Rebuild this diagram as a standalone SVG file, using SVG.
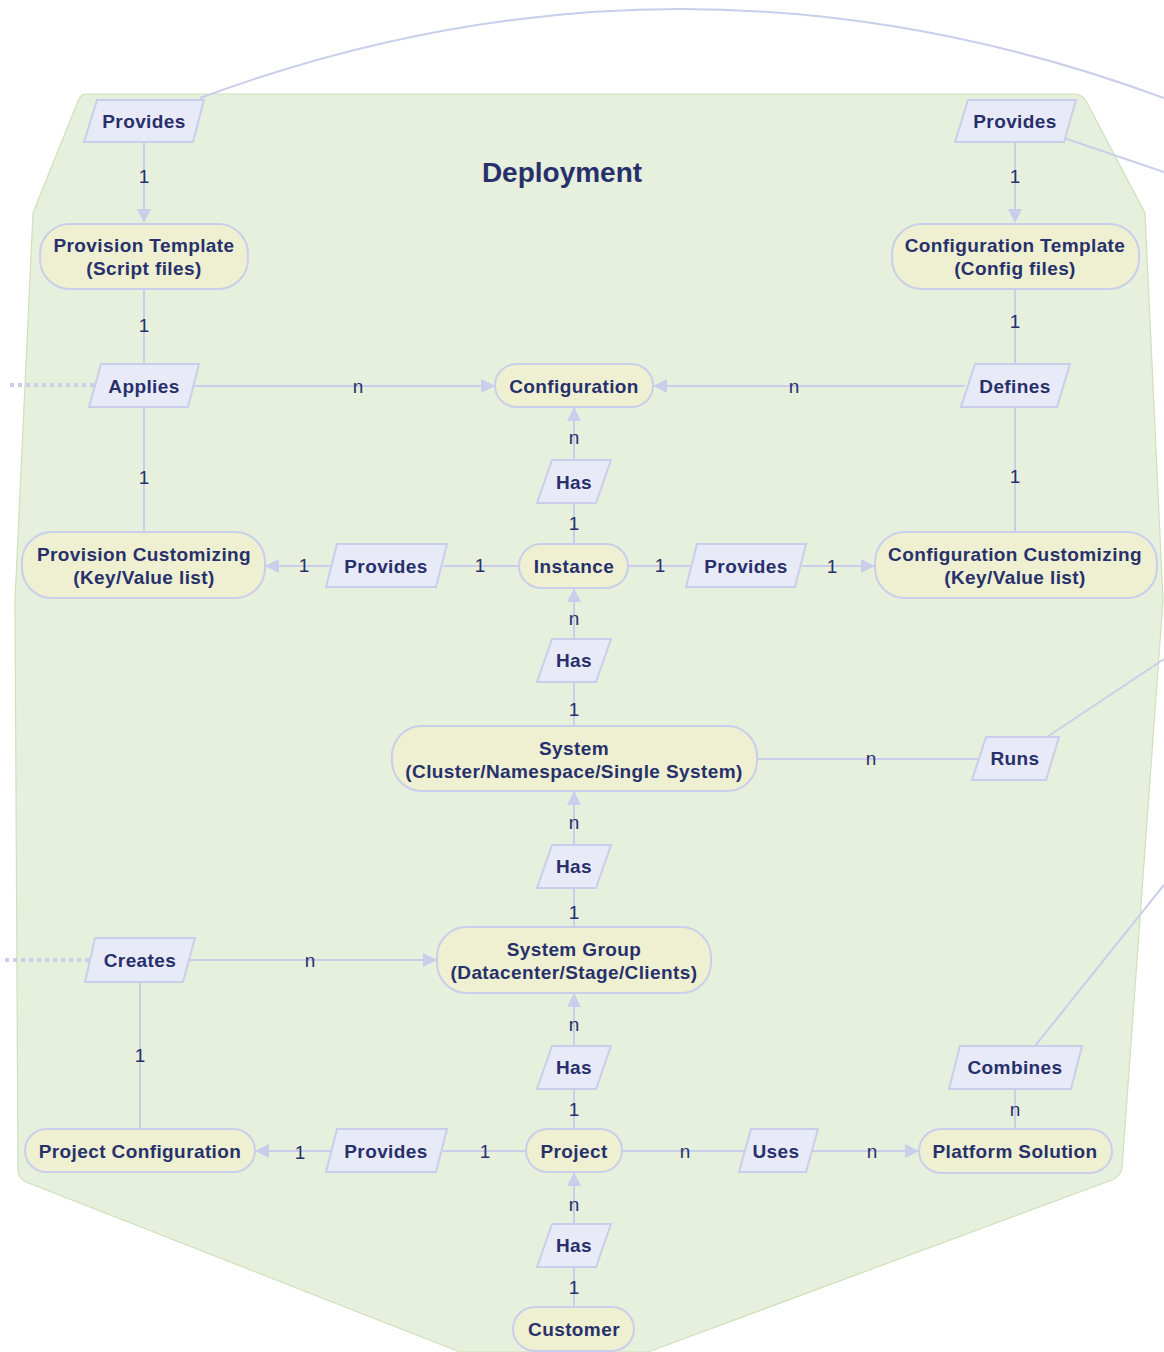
<svg xmlns="http://www.w3.org/2000/svg" width="1164" height="1352" viewBox="0 0 1164 1352">
<style>
.bg{fill:#e6f0dc;stroke:#cfe0bc;stroke-width:1.2}
.ent{fill:#eef0d1;stroke:#c9cfea;stroke-width:2}
.rel{fill:#e8eaf8;stroke:#c9cfea;stroke-width:2}
.t{font-family:"Liberation Sans",Arial,sans-serif;font-weight:bold;font-size:19px;letter-spacing:0.4px;fill:#28306c;text-anchor:middle;dominant-baseline:central}
.lbl{font-family:"Liberation Sans",Arial,sans-serif;font-size:19px;fill:#28306c;text-anchor:middle;dominant-baseline:central}
.ln{fill:none;stroke:#c9cfea;stroke-width:2}
.dot{fill:none;stroke:#c9cfea;stroke-width:4;stroke-dasharray:4 4}
.title{font-family:"Liberation Sans",Arial,sans-serif;font-weight:bold;font-size:28px;fill:#28306c;text-anchor:middle;dominant-baseline:central}
</style>
<defs>
<marker id="arr" viewBox="0 0 14 14" refX="13" refY="7" markerWidth="14" markerHeight="14" markerUnits="userSpaceOnUse" orient="auto">
<path d="M0,0 L14,7 L0,14 z" fill="#c9cfea"/>
</marker>
</defs>
<path class="bg" d="M86,94 L1074,94 Q1082,94 1086,101 L1145,213 L1163,600 L1122,1168 Q1121,1176 1112,1180 L648,1352 L460,1352 L26,1182 Q18,1178 18,1170 L15,600 L33,213 L78,101 Q81,94 86,94 z"/>
<text class="title" x="562" y="172">Deployment</text>
<g id="connectors">
<path class="ln" d="M200,98 Q680,-80 1164,98"/>
<path class="ln" d="M1064,138 L1164,172"/>
<path class="ln" d="M1047,737 L1164,659"/>
<path class="ln" d="M1035,1046 L1164,885"/>
<path class="dot" d="M10,385 L95,385"/>
<path class="dot" d="M5,960 L90,960"/>
<path class="ln" d="M144,142 L144,222" marker-end="url(#arr)"/>
<path class="ln" d="M144,289 L144,364"/>
<path class="ln" d="M144,407 L144,532"/>
<path class="ln" d="M192,386 L494,386" marker-end="url(#arr)"/>
<path class="ln" d="M965,386 L654,386" marker-end="url(#arr)"/>
<path class="ln" d="M1015,142 L1015,222" marker-end="url(#arr)"/>
<path class="ln" d="M1015,289 L1015,364"/>
<path class="ln" d="M1015,407 L1015,532"/>
<path class="ln" d="M574,460 L574,408" marker-end="url(#arr)"/>
<path class="ln" d="M574,544 L574,503"/>
<path class="ln" d="M519,566 L443,566"/>
<path class="ln" d="M331,566 L266,566" marker-end="url(#arr)"/>
<path class="ln" d="M628,566 L690,566"/>
<path class="ln" d="M802,566 L874,566" marker-end="url(#arr)"/>
<path class="ln" d="M574,639 L574,589" marker-end="url(#arr)"/>
<path class="ln" d="M574,726 L574,682"/>
<path class="ln" d="M757,759 L978,759"/>
<path class="ln" d="M574,845 L574,792" marker-end="url(#arr)"/>
<path class="ln" d="M574,927 L574,888"/>
<path class="ln" d="M188,960 L436,960" marker-end="url(#arr)"/>
<path class="ln" d="M140,982 L140,1129"/>
<path class="ln" d="M574,1046 L574,994" marker-end="url(#arr)"/>
<path class="ln" d="M574,1129 L574,1089"/>
<path class="ln" d="M526,1151 L443,1151"/>
<path class="ln" d="M331,1151 L256,1151" marker-end="url(#arr)"/>
<path class="ln" d="M622,1151 L744,1151"/>
<path class="ln" d="M812,1151 L918,1151" marker-end="url(#arr)"/>
<path class="ln" d="M1015,1089 L1015,1129"/>
<path class="ln" d="M574,1224 L574,1173" marker-end="url(#arr)"/>
<path class="ln" d="M574,1307 L574,1267"/>
<g class="lbls">
<text class="lbl" x="144" y="176">1</text>
<text class="lbl" x="144" y="325">1</text>
<text class="lbl" x="144" y="477">1</text>
<text class="lbl" x="358" y="386">n</text>
<text class="lbl" x="794" y="386">n</text>
<text class="lbl" x="1015" y="176">1</text>
<text class="lbl" x="1015" y="321">1</text>
<text class="lbl" x="1015" y="476">1</text>
<text class="lbl" x="574" y="437">n</text>
<text class="lbl" x="574" y="523">1</text>
<text class="lbl" x="480" y="565">1</text>
<text class="lbl" x="304" y="565">1</text>
<text class="lbl" x="660" y="565">1</text>
<text class="lbl" x="832" y="566">1</text>
<text class="lbl" x="574" y="618">n</text>
<text class="lbl" x="574" y="709">1</text>
<text class="lbl" x="871" y="758">n</text>
<text class="lbl" x="574" y="822">n</text>
<text class="lbl" x="574" y="912">1</text>
<text class="lbl" x="310" y="960">n</text>
<text class="lbl" x="140" y="1055">1</text>
<text class="lbl" x="574" y="1024">n</text>
<text class="lbl" x="574" y="1109">1</text>
<text class="lbl" x="485" y="1151">1</text>
<text class="lbl" x="300" y="1152">1</text>
<text class="lbl" x="685" y="1151">n</text>
<text class="lbl" x="872" y="1151">n</text>
<text class="lbl" x="1015" y="1109">n</text>
<text class="lbl" x="574" y="1204">n</text>
<text class="lbl" x="574" y="1287">1</text>
</g>
</g>
<g id="provides1"><path class="rel" d="M97,100 L204,100 L193,142 L84,142 z"/><text class="t" x="144" y="121">Provides</text></g>
<g id="provisionTemplate"><rect class="ent" x="40" y="224" width="208" height="65" rx="30"/><text class="t" x="144" y="245">Provision Template</text><text class="t" x="144" y="268">(Script files)</text></g>
<g id="provides2"><path class="rel" d="M968,100 L1076,100 L1064,142 L955,142 z"/><text class="t" x="1015" y="121">Provides</text></g>
<g id="configurationTemplate"><rect class="ent" x="892" y="224" width="247" height="65" rx="30"/><text class="t" x="1015" y="245">Configuration Template</text><text class="t" x="1015" y="268">(Config files)</text></g>
<g id="applies"><path class="rel" d="M101,364 L199,364 L188,407 L89,407 z"/><text class="t" x="144" y="386">Applies</text></g>
<g id="configuration"><rect class="ent" x="495" y="364" width="158" height="43" rx="21.5"/><text class="t" x="574" y="386">Configuration</text></g>
<g id="defines"><path class="rel" d="M975,364 L1070,364 L1057,407 L961,407 z"/><text class="t" x="1015" y="386">Defines</text></g>
<g id="has1"><path class="rel" d="M552,460 L611,460 L596,503 L537,503 z"/><text class="t" x="574" y="482">Has</text></g>
<g id="provisionCustomizing"><rect class="ent" x="22" y="532" width="243" height="66" rx="30"/><text class="t" x="144" y="554">Provision Customizing</text><text class="t" x="144" y="577">(Key/Value list)</text></g>
<g id="provides3"><path class="rel" d="M337,544 L447,544 L436,587 L326,587 z"/><text class="t" x="386" y="566">Provides</text></g>
<g id="instance"><rect class="ent" x="519" y="544" width="109" height="44" rx="22"/><text class="t" x="574" y="566">Instance</text></g>
<g id="provides4"><path class="rel" d="M697,544 L806,544 L795,587 L686,587 z"/><text class="t" x="746" y="566">Provides</text></g>
<g id="configurationCustomizing"><rect class="ent" x="875" y="532" width="282" height="66" rx="30"/><text class="t" x="1015" y="554">Configuration Customizing</text><text class="t" x="1015" y="577">(Key/Value list)</text></g>
<g id="has2"><path class="rel" d="M552,639 L611,639 L596,682 L537,682 z"/><text class="t" x="574" y="660">Has</text></g>
<g id="system"><rect class="ent" x="392" y="726" width="365" height="65" rx="30"/><text class="t" x="574" y="748">System</text><text class="t" x="574" y="771">(Cluster/Namespace/Single System)</text></g>
<g id="runs"><path class="rel" d="M986,737 L1059,737 L1046,780 L972,780 z"/><text class="t" x="1015" y="758">Runs</text></g>
<g id="has3"><path class="rel" d="M552,845 L611,845 L596,888 L537,888 z"/><text class="t" x="574" y="866">Has</text></g>
<g id="creates"><path class="rel" d="M95,938 L195,938 L183,982 L85,982 z"/><text class="t" x="140" y="960">Creates</text></g>
<g id="systemGroup"><rect class="ent" x="437" y="927" width="274" height="66" rx="30"/><text class="t" x="574" y="949">System Group</text><text class="t" x="574" y="972">(Datacenter/Stage/Clients)</text></g>
<g id="has4"><path class="rel" d="M552,1046 L611,1046 L596,1089 L537,1089 z"/><text class="t" x="574" y="1067">Has</text></g>
<g id="combines"><path class="rel" d="M960,1046 L1082,1046 L1071,1089 L949,1089 z"/><text class="t" x="1015" y="1067">Combines</text></g>
<g id="projectConfiguration"><rect class="ent" x="25" y="1129" width="230" height="43" rx="21.5"/><text class="t" x="140" y="1151">Project Configuration</text></g>
<g id="provides5"><path class="rel" d="M337,1129 L447,1129 L436,1172 L326,1172 z"/><text class="t" x="386" y="1151">Provides</text></g>
<g id="project"><rect class="ent" x="526" y="1129" width="96" height="43" rx="21.5"/><text class="t" x="574" y="1151">Project</text></g>
<g id="uses"><path class="rel" d="M751,1129 L818,1129 L806,1172 L739,1172 z"/><text class="t" x="776" y="1151">Uses</text></g>
<g id="platformSolution"><rect class="ent" x="919" y="1129" width="193" height="44" rx="22"/><text class="t" x="1015" y="1151">Platform Solution</text></g>
<g id="has5"><path class="rel" d="M552,1224 L611,1224 L596,1267 L537,1267 z"/><text class="t" x="574" y="1245">Has</text></g>
<g id="customer"><rect class="ent" x="513" y="1307" width="121" height="44" rx="22"/><text class="t" x="574" y="1329">Customer</text></g>
</svg>
